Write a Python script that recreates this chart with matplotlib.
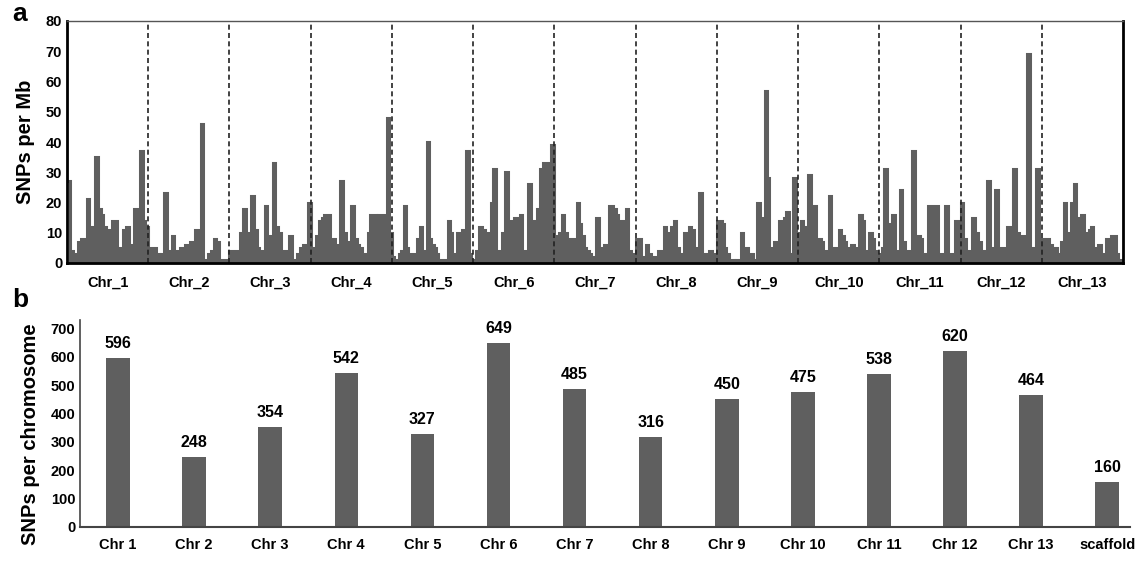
import matplotlib.pyplot as plt
import numpy as np

plt.rcParams['font.family'] = ['Liberation Sans', 'DejaVu Sans']
plt.rcParams['font.weight'] = 'bold'

# panel a: SNP density (SNPs per Mb) along each chromosome
chr1 = [27, 4, 3, 2, 7, 8, 8, 21, 12, 6, 35, 18, 16, 12, 5, 11, 14, 14, 5, 5, 11, 12, 6, 6, 18, 18, 37, 14, 12]
chr2 = [3, 5, 5, 3, 2, 3, 23, 4, 4, 9, 4, 4, 5, 5, 6, 6, 7, 7, 11, 10, 46, 1, 1, 3, 4, 8, 7, 1, 1, 1, 1]
chr3 = [4, 4, 4, 4, 10, 18, 10, 4, 22, 11, 5, 4, 4, 19, 9, 6, 33, 12, 10, 4, 4, 1, 9, 1, 1, 3, 5, 6, 6, 20]
chr4 = [3, 5, 9, 14, 15, 16, 16, 7, 8, 6, 5, 27, 10, 5, 7, 19, 8, 6, 5, 3, 3, 10, 16, 16, 14, 16, 16, 4, 48, 10]
chr5 = [2, 1, 1, 3, 4, 19, 5, 2, 3, 3, 2, 8, 12, 4, 3, 40, 8, 6, 5, 3, 1, 1, 1, 1, 14, 10, 3, 1, 10, 10, 11, 11, 37, 3, 1]
chr6 = [1, 4, 12, 11, 10, 9, 20, 31, 4, 3, 10, 30, 5, 14, 15, 15, 16, 4, 3, 26, 8, 14, 18, 31, 33, 8, 33, 39]
chr7 = [9, 9, 10, 16, 10, 7, 8, 8, 7, 20, 13, 9, 5, 4, 3, 2, 2, 15, 3, 5, 6, 3, 19, 19, 18, 16, 12, 14, 3, 18, 4, 2, 3]
chr8 = [8, 8, 1, 2, 6, 3, 2, 2, 2, 4, 4, 12, 10, 5, 12, 14, 5, 2, 3, 10, 10, 12, 11, 5, 4, 23, 3, 1, 3, 4, 3, 1]
chr9 = [14, 14, 13, 5, 3, 1, 1, 0, 1, 1, 10, 4, 5, 3, 3, 1, 1, 20, 3, 15, 57, 28, 3, 5, 7, 6, 14, 4, 15, 17, 3, 3, 28, 2]
chr10 = [10, 14, 12, 8, 29, 19, 19, 5, 8, 7, 4, 2, 22, 5, 5, 5, 11, 9, 7, 5, 3, 6, 5, 5, 16, 14, 3, 4, 10, 8, 4, 2]
chr11 = [3, 5, 31, 4, 13, 16, 4, 4, 24, 7, 4, 4, 3, 37, 3, 9, 8, 2, 3, 19, 19, 19, 19, 0, 3, 2, 19, 3, 3, 2, 14, 10]
chr12 = [20, 8, 4, 4, 15, 10, 7, 3, 4, 27, 5, 3, 24, 3, 5, 4, 12, 4, 31, 10, 4, 9, 8, 69, 5, 4, 31, 3]
chr13 = [8, 7, 8, 6, 4, 5, 3, 3, 7, 20, 10, 9, 20, 26, 12, 15, 16, 10, 10, 11, 12, 5, 3, 6, 3, 3, 8, 3, 9, 9, 3, 1, 0]
density = [chr1, chr2, chr3, chr4, chr5, chr6, chr7, chr8, chr9, chr10, chr11, chr12, chr13]
chr_labels_a = ['Chr_%d' % (i + 1) for i in range(13)]

# panel b: SNPs per chromosome
chr_labels_b = ['Chr 1', 'Chr 2', 'Chr 3', 'Chr 4', 'Chr 5', 'Chr 6', 'Chr 7',
                'Chr 8', 'Chr 9', 'Chr 10', 'Chr 11', 'Chr 12', 'Chr 13', 'scaffold']
snp_counts = [596, 248, 354, 542, 327, 649, 485, 316, 450, 475, 538, 620, 464, 160]

grey = '#5f5f5f'
W, H = 1139, 562
fig = plt.figure(figsize=(W / 100, H / 100), dpi=100)

# ---------- panel a ----------
ax = fig.add_axes([67 / W, 1 - 263 / H, 1056 / W, 242 / H])
xs, ys = [], []
for i, vals in enumerate(density):
    n = len(vals)
    xs.extend(i + (np.arange(n) + 0.5) / n)
    ys.extend(vals)
xs = np.array(xs)
ys = np.array(ys)
ax.fill_between(xs, 0, ys, step='mid', color=grey, lw=0)
ax.plot(xs, ys, drawstyle='steps-mid', color=grey, lw=2.2, solid_joinstyle='miter')

for b in range(1, 13):
    ax.axvline(b, color='#222222', ls=(0, (3, 2)), lw=1.2)

ax.set_xlim(0, 13)
ax.set_ylim(0, 80)
ax.set_yticks(range(0, 81, 10))
ax.set_xticks(np.arange(13) + 0.5)
ax.set_xticklabels(chr_labels_a, fontsize=11, fontweight='bold')
ax.tick_params(axis='both', length=0, labelsize=10.5)
ax.tick_params(axis='x', pad=9)
for lab in ax.get_yticklabels():
    lab.set_fontweight('bold')
ax.set_ylabel('SNPs per Mb', fontsize=14.5, fontweight='bold', labelpad=8)
for s in ['left', 'bottom', 'right']:
    ax.spines[s].set_linewidth(2)
    ax.spines[s].set_color('black')
ax.spines['top'].set_linewidth(1)
ax.spines['top'].set_color('#555555')
fig.text(12 / W, 1 - 14 / H, 'a', fontsize=19, fontweight='bold', va='center')

# ---------- panel b ----------
bx = fig.add_axes([80 / W, 1 - 527 / H, 1050 / W, 207 / H])
pos = np.arange(len(snp_counts))
bx.bar(pos, snp_counts, width=0.31, color=grey)
for p, v in zip(pos, snp_counts):
    bx.text(p, v + 25, str(v), ha='center', va='bottom', fontsize=11.5, fontweight='bold')
bx.set_xlim(-0.5, 13.3)
bx.set_ylim(0, 730)
bx.set_yticks(range(0, 701, 100))
bx.set_xticks(pos)
bx.set_xticklabels(chr_labels_b, fontsize=11.5, fontweight='bold')
bx.tick_params(axis='both', length=0, labelsize=10.5)
bx.tick_params(axis='x', pad=8)
for lab in bx.get_yticklabels():
    lab.set_fontweight('bold')
bx.set_ylabel('SNPs per chromosome', fontsize=14.5, fontweight='bold', labelpad=6)
bx.yaxis.set_label_coords(-0.038, 0.45)
bx.spines['top'].set_visible(False)
bx.spines['right'].set_visible(False)
bx.spines['left'].set_color('#444444')
bx.spines['bottom'].set_color('#444444')
bx.spines['left'].set_linewidth(1.2)
bx.spines['bottom'].set_linewidth(1.5)
fig.text(12 / W, 1 - 300 / H, 'b', fontsize=19, fontweight='bold', va='center')

fig.savefig('out.png', dpi=100)
